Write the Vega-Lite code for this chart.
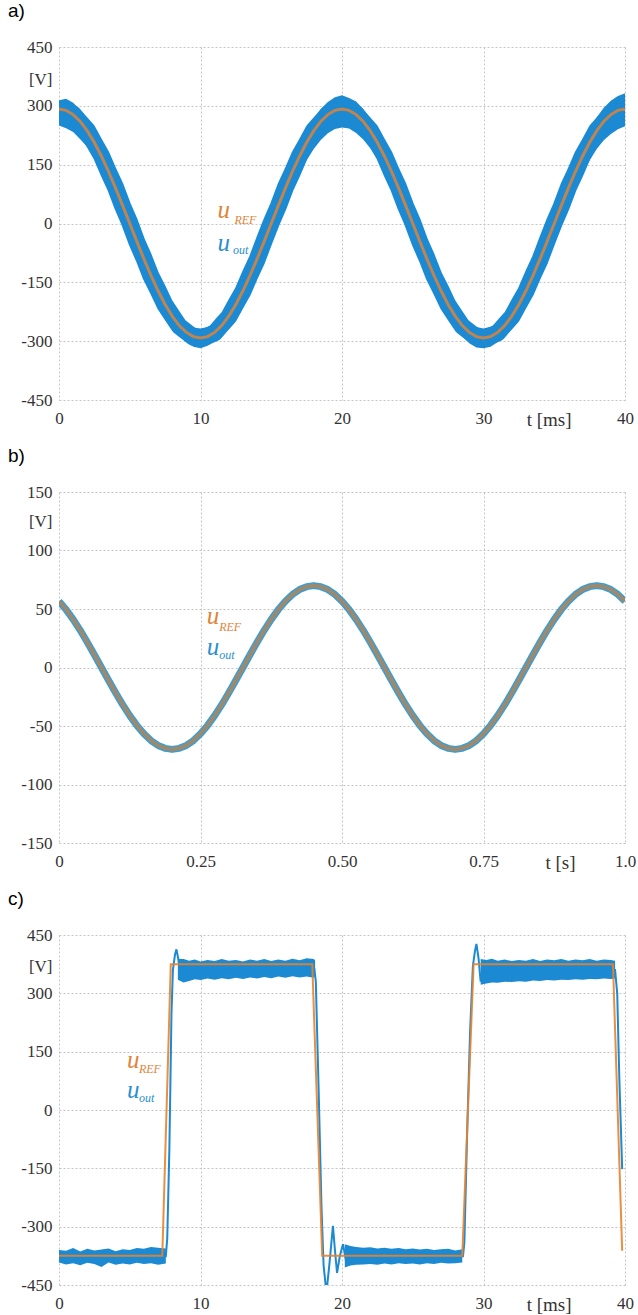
{
 "$schema": "https://vega.github.io/schema/vega-lite/v6.json",
 "padding": {"left": 8, "top": 2, "right": 2, "bottom": 2},
 "background": "white",
 "spacing": 92,
 "bounds": "flush",
 "resolve": {"scale": {"x": "independent", "y": "independent", "color": "independent"}},
 "datasets": {
  "a": [
   {"t":0,"ref":292,"out":293,"lo":250,"hi":314},
   {"t":0.5,"ref":288.4,"out":287,"lo":243,"hi":318},
   {"t":1,"ref":277.7,"out":279,"lo":233,"hi":308},
   {"t":1.5,"ref":260.2,"out":258,"lo":215,"hi":290},
   {"t":2,"ref":236.2,"out":238,"lo":195,"hi":266},
   {"t":2.5,"ref":206.5,"out":205,"lo":168,"hi":236},
   {"t":3,"ref":171.6,"out":173,"lo":135,"hi":200},
   {"t":3.5,"ref":132.6,"out":131,"lo":97,"hi":160},
   {"t":4,"ref":90.2,"out":92,"lo":55,"hi":118},
   {"t":4.5,"ref":45.7,"out":44,"lo":10,"hi":74},
   {"t":5,"ref":0,"out":2,"lo":-35,"hi":28},
   {"t":5.5,"ref":-45.7,"out":-47,"lo":-80,"hi":-18},
   {"t":6,"ref":-90.2,"out":-88,"lo":-122,"hi":-62},
   {"t":6.5,"ref":-132.6,"out":-134,"lo":-165,"hi":-105},
   {"t":7,"ref":-171.6,"out":-170,"lo":-200,"hi":-145},
   {"t":7.5,"ref":-206.5,"out":-208,"lo":-234,"hi":-180},
   {"t":8,"ref":-236.2,"out":-235,"lo":-262,"hi":-210},
   {"t":8.5,"ref":-260.2,"out":-262,"lo":-286,"hi":-235},
   {"t":9,"ref":-277.7,"out":-276,"lo":-303,"hi":-253},
   {"t":9.5,"ref":-288.4,"out":-290,"lo":-314,"hi":-265},
   {"t":10,"ref":-292,"out":-293,"lo":-318,"hi":-268},
   {"t":10.5,"ref":-288.4,"out":-287,"lo":-312,"hi":-264},
   {"t":11,"ref":-277.7,"out":-279,"lo":-300,"hi":-254},
   {"t":11.5,"ref":-260.2,"out":-258,"lo":-284,"hi":-236},
   {"t":12,"ref":-236.2,"out":-238,"lo":-260,"hi":-212},
   {"t":12.5,"ref":-206.5,"out":-205,"lo":-232,"hi":-181},
   {"t":13,"ref":-171.6,"out":-173,"lo":-198,"hi":-144},
   {"t":13.5,"ref":-132.6,"out":-131,"lo":-164,"hi":-104},
   {"t":14,"ref":-90.2,"out":-92,"lo":-122,"hi":-60},
   {"t":14.5,"ref":-45.7,"out":-44,"lo":-78,"hi":-16},
   {"t":15,"ref":0,"out":2,"lo":-34,"hi":30},
   {"t":15.5,"ref":45.7,"out":44,"lo":10,"hi":76},
   {"t":16,"ref":90.2,"out":92,"lo":54,"hi":120},
   {"t":16.5,"ref":132.6,"out":131,"lo":95,"hi":163},
   {"t":17,"ref":171.6,"out":173,"lo":130,"hi":203},
   {"t":17.5,"ref":206.5,"out":205,"lo":162,"hi":238},
   {"t":18,"ref":236.2,"out":238,"lo":190,"hi":268},
   {"t":18.5,"ref":260.2,"out":258,"lo":213,"hi":292},
   {"t":19,"ref":277.7,"out":279,"lo":230,"hi":310},
   {"t":19.5,"ref":288.4,"out":287,"lo":241,"hi":322},
   {"t":20,"ref":292,"out":294,"lo":245,"hi":327},
   {"t":20.5,"ref":288.4,"out":287,"lo":242,"hi":320},
   {"t":21,"ref":277.7,"out":279,"lo":231,"hi":311},
   {"t":21.5,"ref":260.2,"out":258,"lo":214,"hi":292},
   {"t":22,"ref":236.2,"out":238,"lo":192,"hi":268},
   {"t":22.5,"ref":206.5,"out":205,"lo":165,"hi":238},
   {"t":23,"ref":171.6,"out":173,"lo":132,"hi":202},
   {"t":23.5,"ref":132.6,"out":131,"lo":96,"hi":162},
   {"t":24,"ref":90.2,"out":92,"lo":55,"hi":120},
   {"t":24.5,"ref":45.7,"out":44,"lo":10,"hi":75},
   {"t":25,"ref":0,"out":2,"lo":-35,"hi":30},
   {"t":25.5,"ref":-45.7,"out":-47,"lo":-80,"hi":-17},
   {"t":26,"ref":-90.2,"out":-88,"lo":-124,"hi":-60},
   {"t":26.5,"ref":-132.6,"out":-134,"lo":-166,"hi":-104},
   {"t":27,"ref":-171.6,"out":-170,"lo":-202,"hi":-146},
   {"t":27.5,"ref":-206.5,"out":-208,"lo":-235,"hi":-180},
   {"t":28,"ref":-236.2,"out":-235,"lo":-263,"hi":-210},
   {"t":28.5,"ref":-260.2,"out":-262,"lo":-288,"hi":-236},
   {"t":29,"ref":-277.7,"out":-276,"lo":-305,"hi":-252},
   {"t":29.5,"ref":-288.4,"out":-290,"lo":-316,"hi":-264},
   {"t":30,"ref":-292,"out":-293,"lo":-318,"hi":-268},
   {"t":30.5,"ref":-288.4,"out":-287,"lo":-314,"hi":-263},
   {"t":31,"ref":-277.7,"out":-279,"lo":-302,"hi":-254},
   {"t":31.5,"ref":-260.2,"out":-258,"lo":-285,"hi":-235},
   {"t":32,"ref":-236.2,"out":-238,"lo":-262,"hi":-212},
   {"t":32.5,"ref":-206.5,"out":-205,"lo":-232,"hi":-180},
   {"t":33,"ref":-171.6,"out":-173,"lo":-200,"hi":-144},
   {"t":33.5,"ref":-132.6,"out":-131,"lo":-165,"hi":-103},
   {"t":34,"ref":-90.2,"out":-92,"lo":-123,"hi":-60},
   {"t":34.5,"ref":-45.7,"out":-44,"lo":-79,"hi":-15},
   {"t":35,"ref":0,"out":2,"lo":-35,"hi":31},
   {"t":35.5,"ref":45.7,"out":44,"lo":9,"hi":77},
   {"t":36,"ref":90.2,"out":92,"lo":53,"hi":121},
   {"t":36.5,"ref":132.6,"out":131,"lo":94,"hi":165},
   {"t":37,"ref":171.6,"out":173,"lo":129,"hi":205},
   {"t":37.5,"ref":206.5,"out":205,"lo":161,"hi":240},
   {"t":38,"ref":236.2,"out":238,"lo":190,"hi":270},
   {"t":38.5,"ref":260.2,"out":258,"lo":212,"hi":295},
   {"t":39,"ref":277.7,"out":279,"lo":228,"hi":313},
   {"t":39.5,"ref":288.4,"out":287,"lo":240,"hi":325},
   {"t":40,"ref":292,"out":294,"lo":248,"hi":332}
  ],
  "b": [
   {"t":0,"v":56.6},{"t":0.0125,"v":49.5},{"t":0.025,"v":41.1},{"t":0.0375,"v":31.8},{"t":0.05,"v":21.6},{"t":0.0625,"v":10.9},{"t":0.075,"v":0},{"t":0.0875,"v":-10.9},{"t":0.1,"v":-21.6},{"t":0.1125,"v":-31.8},{"t":0.125,"v":-41.1},{"t":0.1375,"v":-49.5},{"t":0.15,"v":-56.6},{"t":0.1625,"v":-62.4},{"t":0.175,"v":-66.6},{"t":0.1875,"v":-69.1},{"t":0.2,"v":-70},
   {"t":0.2125,"v":-69.1},{"t":0.225,"v":-66.6},{"t":0.2375,"v":-62.4},{"t":0.25,"v":-56.6},{"t":0.2625,"v":-49.5},{"t":0.275,"v":-41.1},{"t":0.2875,"v":-31.8},{"t":0.3,"v":-21.6},{"t":0.3125,"v":-10.9},{"t":0.325,"v":0},{"t":0.3375,"v":10.9},{"t":0.35,"v":21.6},{"t":0.3625,"v":31.8},{"t":0.375,"v":41.1},{"t":0.3875,"v":49.5},{"t":0.4,"v":56.6},{"t":0.4125,"v":62.4},{"t":0.425,"v":66.6},{"t":0.4375,"v":69.1},{"t":0.45,"v":70},
   {"t":0.4625,"v":69.1},{"t":0.475,"v":66.6},{"t":0.4875,"v":62.4},{"t":0.5,"v":56.6},{"t":0.5125,"v":49.5},{"t":0.525,"v":41.1},{"t":0.5375,"v":31.8},{"t":0.55,"v":21.6},{"t":0.5625,"v":10.9},{"t":0.575,"v":0},{"t":0.5875,"v":-10.9},{"t":0.6,"v":-21.6},{"t":0.6125,"v":-31.8},{"t":0.625,"v":-41.1},{"t":0.6375,"v":-49.5},{"t":0.65,"v":-56.6},{"t":0.6625,"v":-62.4},{"t":0.675,"v":-66.6},{"t":0.6875,"v":-69.1},{"t":0.7,"v":-70},
   {"t":0.7125,"v":-69.1},{"t":0.725,"v":-66.6},{"t":0.7375,"v":-62.4},{"t":0.75,"v":-56.6},{"t":0.7625,"v":-49.5},{"t":0.775,"v":-41.1},{"t":0.7875,"v":-31.8},{"t":0.8,"v":-21.6},{"t":0.8125,"v":-10.9},{"t":0.825,"v":0},{"t":0.8375,"v":10.9},{"t":0.85,"v":21.6},{"t":0.8625,"v":31.8},{"t":0.875,"v":41.1},{"t":0.8875,"v":49.5},{"t":0.9,"v":56.6},{"t":0.9125,"v":62.4},{"t":0.925,"v":66.6},{"t":0.9375,"v":69.1},{"t":0.95,"v":70},
   {"t":0.9625,"v":69.1},{"t":0.975,"v":66.6},{"t":0.9875,"v":62.4},{"t":1.0,"v":56.6}
  ],
  "c_ref": [
   {"t":0,"v":-375},{"t":7.3,"v":-375},{"t":7.9,"v":375},{"t":17.9,"v":375},{"t":18.6,"v":-375},{"t":28.5,"v":-375},{"t":29.3,"v":375},{"t":39.15,"v":375},{"t":39.8,"v":-362}
  ],
  "c_band": [
   {"seg":1,"t":0,"lo":-392,"hi":-360},{"seg":1,"t":0.5,"lo":-397,"hi":-362},{"seg":1,"t":1,"lo":-394,"hi":-355},{"seg":1,"t":1.5,"lo":-399,"hi":-364},{"seg":1,"t":2,"lo":-393,"hi":-357},{"seg":1,"t":2.5,"lo":-396,"hi":-361},{"seg":1,"t":3,"lo":-404,"hi":-359},{"seg":1,"t":3.5,"lo":-392,"hi":-356},{"seg":1,"t":4,"lo":-398,"hi":-363},{"seg":1,"t":4.5,"lo":-395,"hi":-358},{"seg":1,"t":5,"lo":-397,"hi":-360},{"seg":1,"t":5.5,"lo":-393,"hi":-355},{"seg":1,"t":6,"lo":-396,"hi":-357},{"seg":1,"t":6.5,"lo":-394,"hi":-352},{"seg":1,"t":7,"lo":-398,"hi":-354},{"seg":1,"t":7.55,"lo":-395,"hi":-356},
   {"seg":2,"t":8.4,"lo":335,"hi":388},{"seg":2,"t":8.8,"lo":328,"hi":388},{"seg":2,"t":9.2,"lo":332,"hi":384},{"seg":2,"t":9.6,"lo":336,"hi":387},{"seg":2,"t":10,"lo":334,"hi":382},{"seg":2,"t":10.5,"lo":338,"hi":386},{"seg":2,"t":11,"lo":335,"hi":383},{"seg":2,"t":11.5,"lo":339,"hi":388},{"seg":2,"t":12,"lo":336,"hi":384},{"seg":2,"t":12.5,"lo":340,"hi":386},{"seg":2,"t":13,"lo":337,"hi":382},{"seg":2,"t":13.5,"lo":341,"hi":387},{"seg":2,"t":14,"lo":338,"hi":384},{"seg":2,"t":14.5,"lo":342,"hi":388},{"seg":2,"t":15,"lo":339,"hi":383},{"seg":2,"t":15.5,"lo":343,"hi":387},{"seg":2,"t":16,"lo":340,"hi":384},{"seg":2,"t":16.5,"lo":344,"hi":389},{"seg":2,"t":17,"lo":341,"hi":385},{"seg":2,"t":17.5,"lo":343,"hi":390},{"seg":2,"t":18,"lo":340,"hi":388},{"seg":2,"t":18.1,"lo":345,"hi":385},
   {"seg":3,"t":20.2,"lo":-405,"hi":-345},{"seg":3,"t":20.6,"lo":-400,"hi":-350},{"seg":3,"t":21,"lo":-398,"hi":-352},{"seg":3,"t":21.5,"lo":-397,"hi":-354},{"seg":3,"t":22,"lo":-396,"hi":-353},{"seg":3,"t":22.5,"lo":-398,"hi":-356},{"seg":3,"t":23,"lo":-395,"hi":-354},{"seg":3,"t":23.5,"lo":-397,"hi":-357},{"seg":3,"t":24,"lo":-394,"hi":-355},{"seg":3,"t":24.5,"lo":-396,"hi":-358},{"seg":3,"t":25,"lo":-395,"hi":-356},{"seg":3,"t":25.5,"lo":-397,"hi":-359},{"seg":3,"t":26,"lo":-394,"hi":-357},{"seg":3,"t":26.5,"lo":-396,"hi":-360},{"seg":3,"t":27,"lo":-393,"hi":-358},{"seg":3,"t":27.5,"lo":-395,"hi":-357},{"seg":3,"t":28,"lo":-394,"hi":-361},{"seg":3,"t":28.5,"lo":-392,"hi":-358},
   {"seg":4,"t":29.8,"lo":322,"hi":388},{"seg":4,"t":30.2,"lo":325,"hi":386},{"seg":4,"t":30.6,"lo":328,"hi":389},{"seg":4,"t":31,"lo":327,"hi":384},{"seg":4,"t":31.5,"lo":330,"hi":387},{"seg":4,"t":32,"lo":329,"hi":383},{"seg":4,"t":32.5,"lo":331,"hi":386},{"seg":4,"t":33,"lo":330,"hi":384},{"seg":4,"t":33.5,"lo":333,"hi":388},{"seg":4,"t":34,"lo":332,"hi":383},{"seg":4,"t":34.5,"lo":334,"hi":387},{"seg":4,"t":35,"lo":333,"hi":385},{"seg":4,"t":35.5,"lo":335,"hi":388},{"seg":4,"t":36,"lo":334,"hi":384},{"seg":4,"t":36.5,"lo":336,"hi":387},{"seg":4,"t":37,"lo":335,"hi":385},{"seg":4,"t":37.5,"lo":337,"hi":388},{"seg":4,"t":38,"lo":336,"hi":384},{"seg":4,"t":38.5,"lo":338,"hi":387},{"seg":4,"t":39,"lo":337,"hi":386},{"seg":4,"t":39.3,"lo":338,"hi":384}
  ],
  "c_out": [
   {"t":0,"v":-376},{"t":7.55,"v":-376},{"t":7.65,"v":-330},{"t":7.8,"v":-100},{"t":7.95,"v":250},{"t":8.05,"v":360},{"t":8.2,"v":400},{"t":8.3,"v":413},{"t":8.45,"v":385},{"t":8.6,"v":345},{"t":8.8,"v":372},{"t":9.0,"v":360},{"t":18.05,"v":362},{"t":18.15,"v":330},{"t":18.35,"v":50},{"t":18.55,"v":-250},{"t":18.7,"v":-400},{"t":18.9,"v":-470},{"t":19.1,"v":-400},{"t":19.36,"v":-298},{"t":19.5,"v":-360},{"t":19.65,"v":-419},{"t":19.85,"v":-375},{"t":20.07,"v":-345},{"t":20.3,"v":-392},{"t":20.5,"v":-372},{"t":28.55,"v":-376},{"t":28.65,"v":-340},{"t":28.85,"v":-50},{"t":29.05,"v":200},{"t":29.25,"v":370},{"t":29.4,"v":410},{"t":29.5,"v":427},{"t":29.65,"v":390},{"t":29.8,"v":330},{"t":30.0,"v":372},{"t":30.2,"v":355},{"t":39.3,"v":360},{"t":39.45,"v":300},{"t":39.6,"v":80},{"t":39.8,"v":-152}
  ]
 },
 "vconcat": [
  {
   "title": {"text": "a)", "offset": 17},
   "width": 566, "height": 353,
   "layer": [
    {"data": {"name": "a"}, "mark": {"type": "area", "color": "#1b8ad3", "clip": true},
     "encoding": {
      "x": {"field": "t", "type": "quantitative", "scale": {"domain": [0, 40], "nice": false, "zero": false},
            "axis": {"values": [0, 10, 20, 30, 34.6, 40], "labelExpr": "datum.value == 34.6 ? 't [ms]' : toString(datum.value)",
                     "gridOpacity": {"condition": {"test": "datum.value == 34.6", "value": 0}, "value": 1},
                     "labelFontSize": {"condition": {"test": "datum.value == 34.6", "value": 19}, "value": 17}}},
      "y": {"field": "lo", "type": "quantitative", "scale": {"domain": [-450, 450], "nice": false, "zero": false},
            "axis": {"values": [-450, -300, -150, 0, 150, 300, 368, 450], "labelExpr": "datum.value == 368 ? '[V]' : toString(datum.value)",
                     "gridOpacity": {"condition": {"test": "datum.value == 368", "value": 0}, "value": 1}}},
      "y2": {"field": "hi"}
     }},
    {"data": {"name": "a"}, "mark": {"type": "line", "color": "#1b8ad3", "strokeWidth": 17, "strokeJoin": "round", "clip": true},
     "encoding": {"x": {"field": "t", "type": "quantitative"}, "y": {"field": "out", "type": "quantitative"}}},
    {"data": {"name": "a"}, "mark": {"type": "line", "color": "#e8822e", "strokeWidth": 3, "opacity": 0.8, "clip": true},
     "encoding": {"x": {"field": "t", "type": "quantitative"}, "y": {"field": "ref", "type": "quantitative"}}},
    {"data": {"values": [
      {"t": 11.2, "v": 13, "txt": "u", "series": "ref", "part": "main"},
      {"t": 12.4, "v": 0, "txt": "REF", "series": "ref", "part": "sub"},
      {"t": 11.2, "v": -69, "txt": "u", "series": "out", "part": "main"},
      {"t": 12.3, "v": -77, "txt": "out", "series": "out", "part": "sub"}]},
     "mark": {"type": "text", "font": "Liberation Serif, Times New Roman, serif", "fontStyle": "italic", "align": "left", "baseline": "alphabetic"},
     "encoding": {"x": {"field": "t", "type": "quantitative"}, "y": {"field": "v", "type": "quantitative"}, "text": {"field": "txt"},
      "color": {"field": "series", "type": "nominal", "scale": {"domain": ["ref", "out"], "range": ["#e0843a", "#2a8fd0"]}, "legend": null},
      "size": {"condition": {"test": "datum.part == 'sub'", "value": 12}, "value": 25}}}
   ]
  },
  {
   "title": {"text": "b)", "offset": 17},
   "width": 566, "height": 351,
   "layer": [
    {"data": {"name": "b"}, "mark": {"type": "line", "color": "#3a9fd6", "strokeWidth": 7, "strokeJoin": "round", "clip": true},
     "encoding": {
      "x": {"field": "t", "type": "quantitative", "scale": {"domain": [0, 1], "nice": false, "zero": false},
            "axis": {"values": [0, 0.25, 0.5, 0.75, 0.885, 1], "labelExpr": "datum.value == 0.885 ? 't [s]' : datum.value == 0 ? '0' : datum.value == 1 ? '1.0' : format(datum.value, '.2f')",
                     "gridOpacity": {"condition": {"test": "datum.value == 0.885", "value": 0}, "value": 1},
                     "labelFontSize": {"condition": {"test": "datum.value == 0.885", "value": 19}, "value": 17}}},
      "y": {"field": "v", "type": "quantitative", "scale": {"domain": [-150, 150], "nice": false, "zero": false},
            "axis": {"values": [-150, -100, -50, 0, 50, 100, 125, 150], "labelExpr": "datum.value == 125 ? '[V]' : toString(datum.value)",
                     "gridOpacity": {"condition": {"test": "datum.value == 125", "value": 0}, "value": 1}}}
     }},
    {"data": {"name": "b"}, "mark": {"type": "line", "color": "#e07b28", "strokeWidth": 4, "opacity": 0.6, "clip": true},
     "encoding": {"x": {"field": "t", "type": "quantitative"}, "y": {"field": "v", "type": "quantitative"}}},
    {"data": {"values": [
      {"t": 0.261, "v": 37, "txt": "u", "series": "ref", "part": "main"},
      {"t": 0.283, "v": 31, "txt": "REF", "series": "ref", "part": "sub"},
      {"t": 0.261, "v": 11, "txt": "u", "series": "out", "part": "main"},
      {"t": 0.283, "v": 7, "txt": "out", "series": "out", "part": "sub"}]},
     "mark": {"type": "text", "font": "Liberation Serif, Times New Roman, serif", "fontStyle": "italic", "align": "left", "baseline": "alphabetic"},
     "encoding": {"x": {"field": "t", "type": "quantitative"}, "y": {"field": "v", "type": "quantitative"}, "text": {"field": "txt"},
      "color": {"field": "series", "type": "nominal", "scale": {"domain": ["ref", "out"], "range": ["#e0843a", "#2a8fd0"]}, "legend": null},
      "size": {"condition": {"test": "datum.part == 'sub'", "value": 12}, "value": 25}}}
   ]
  },
  {
   "title": {"text": "c)", "offset": 17},
   "width": 566, "height": 350,
   "layer": [
    {"data": {"name": "c_band"}, "mark": {"type": "area", "color": "#1b8ad3", "clip": true},
     "encoding": {
      "x": {"field": "t", "type": "quantitative", "scale": {"domain": [0, 40], "nice": false, "zero": false},
            "axis": {"values": [0, 10, 20, 30, 34.6, 40], "labelExpr": "datum.value == 34.6 ? 't [ms]' : toString(datum.value)",
                     "gridOpacity": {"condition": {"test": "datum.value == 34.6", "value": 0}, "value": 1},
                     "labelFontSize": {"condition": {"test": "datum.value == 34.6", "value": 19}, "value": 17}}},
      "y": {"field": "lo", "type": "quantitative", "scale": {"domain": [-450, 450], "nice": false, "zero": false},
            "axis": {"values": [-450, -300, -150, 0, 150, 300, 370, 450], "labelExpr": "datum.value == 370 ? '[V]' : toString(datum.value)",
                     "gridOpacity": {"condition": {"test": "datum.value == 370", "value": 0}, "value": 1}}},
      "y2": {"field": "hi"},
      "detail": {"field": "seg"}
     }},
    {"data": {"name": "c_out"}, "mark": {"type": "line", "color": "#1b8ad3", "strokeWidth": 2, "clip": true},
     "encoding": {"x": {"field": "t", "type": "quantitative"}, "y": {"field": "v", "type": "quantitative"}}},
    {"data": {"name": "c_ref"}, "mark": {"type": "line", "color": "#e8822e", "strokeWidth": 2, "opacity": 0.9, "clip": true},
     "encoding": {"x": {"field": "t", "type": "quantitative"}, "y": {"field": "v", "type": "quantitative"}}},
    {"data": {"values": [
      {"t": 4.8, "v": 108, "txt": "u", "series": "ref", "part": "main"},
      {"t": 5.65, "v": 95, "txt": "REF", "series": "ref", "part": "sub"},
      {"t": 4.8, "v": 31, "txt": "u", "series": "out", "part": "main"},
      {"t": 5.65, "v": 21, "txt": "out", "series": "out", "part": "sub"}]},
     "mark": {"type": "text", "font": "Liberation Serif, Times New Roman, serif", "fontStyle": "italic", "align": "left", "baseline": "alphabetic"},
     "encoding": {"x": {"field": "t", "type": "quantitative"}, "y": {"field": "v", "type": "quantitative"}, "text": {"field": "txt"},
      "color": {"field": "series", "type": "nominal", "scale": {"domain": ["ref", "out"], "range": ["#e0843a", "#2a8fd0"]}, "legend": null},
      "size": {"condition": {"test": "datum.part == 'sub'", "value": 12}, "value": 25}}}
   ]
  }
 ],
 "config": {
  "view": {"stroke": null},
  "axis": {"grid": true, "gridColor": "#c4c4c4", "gridDash": [2, 2], "domain": false, "ticks": false,
           "labelFont": "Liberation Serif, Times New Roman, serif", "labelFontSize": 17, "labelColor": "#333333", "title": null,
           "labelFlush": false, "labelOverlap": false},
  "axisX": {"labelPadding": 10},
  "axisY": {"labelPadding": 7},
  "title": {"font": "Liberation Sans, Arial, sans-serif", "fontSize": 19, "fontWeight": "normal", "anchor": "start", "frame": "group",
            "dx": -51, "color": "#000000", "baseline": "alphabetic"}
 }
}
